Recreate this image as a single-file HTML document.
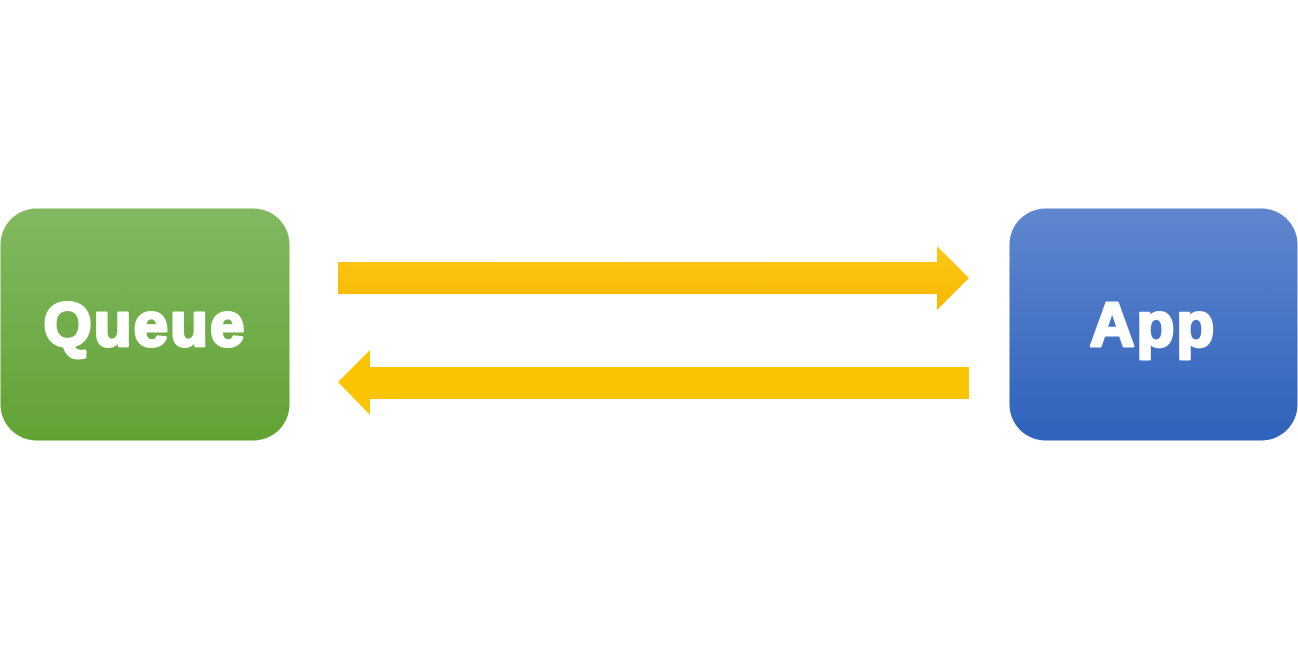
<!DOCTYPE html>
<html><head><style>html,body{margin:0;padding:0;background:#fff;width:1298px;height:653px;overflow:hidden}</style></head>
<body>
<svg width="1298" height="653" xmlns="http://www.w3.org/2000/svg">
<defs>
<linearGradient id="g" x1="0" y1="0" x2="0" y2="1"><stop offset="0" stop-color="#82b961"/><stop offset="1" stop-color="#62a234"/></linearGradient>
<linearGradient id="b" x1="0" y1="0" x2="0" y2="1"><stop offset="0" stop-color="#6086cf"/><stop offset="1" stop-color="#2f62bb"/></linearGradient>
<linearGradient id="y" x1="0" y1="0" x2="0" y2="1"><stop offset="0" stop-color="#fdc918"/><stop offset="1" stop-color="#f5b800"/></linearGradient>
</defs>
<rect x="0.5" y="208.5" width="289" height="232" rx="36" fill="url(#g)"/>
<rect x="1009.5" y="208.5" width="288" height="232" rx="36" fill="url(#b)"/>
<polygon points="338,262 937,262 937,246 969,278 937,310 937,294 338,294" fill="url(#y)"/>
<polygon points="969,367 370,367 370,350 338,382 370,415 370,399 969,399" fill="#fbc400"/>
<g font-family="Liberation Sans, sans-serif" font-weight="bold" font-size="62" fill="#fff" stroke="#fff" stroke-width="3" stroke-linejoin="round" text-anchor="middle" letter-spacing="2">
<text x="145" y="346">Queue</text>
<text x="1153" y="346">App</text>
</g>
</svg>
</body></html>
